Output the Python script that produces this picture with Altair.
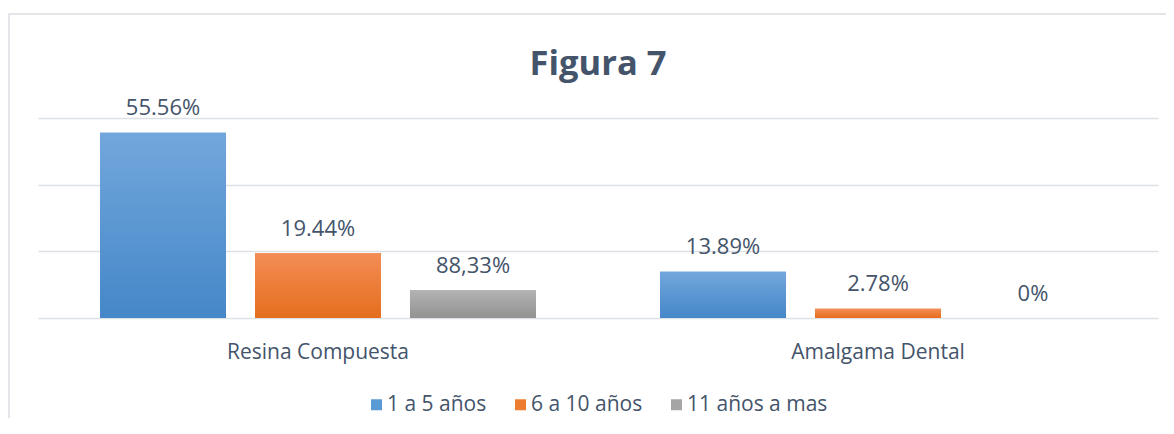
import altair as alt
import pandas as pd

categories = ["Resina Compuesta", "Amalgama Dental"]
series = ["1 a 5 años", "6 a 10 años", "11 años a mas"]
resina_values = [55.56, 19.44, 8.33]
amalgama_values = [13.89, 2.78, 0.0]
resina_labels = ["55.56%", "19.44%", "88,33%"]
amalgama_labels = ["13.89%", "2.78%", "0%"]
title_text = "Figura 7"

flat_colors = ["#5b9bd5", "#ed7d31", "#a5a5a5"]
grad_top = ["#72a7dc", "#f38d56", "#b3b3b3"]
grad_bottom = ["#4587c8", "#e56e1d", "#929292"]

rows = []
for cat, vals, labs in [(categories[0], resina_values, resina_labels),
                        (categories[1], amalgama_values, amalgama_labels)]:
    for s, v, l in zip(series, vals, labs):
        rows.append({"cat": cat, "serie": s, "valor": v, "etiqueta": l})
df = pd.DataFrame(rows)

TXT = "#44546A"
FONT = "Open Sans"

x_enc = alt.X("cat:N", sort=categories, title=None,
              scale=alt.Scale(paddingInner=0, paddingOuter=0),
              axis=alt.Axis(labelFontSize=21, labelColor=TXT, labelFont=FONT,
                            ticks=False, domain=False, labelPadding=23,
                            labelAngle=0, grid=False, labelLimit=500))
xo_enc = alt.XOffset("serie:N", sort=series,
                     scale=alt.Scale(paddingInner=0.187, paddingOuter=0.4))
y_enc = alt.Y("valor:Q", title=None,
              scale=alt.Scale(domain=[0, 60], nice=False),
              axis=alt.Axis(values=[0, 20, 40, 60], labels=False, ticks=False,
                            domain=False, grid=True, gridColor="#dde1e6",
                            gridWidth=1.5))

base = alt.Chart(df)

border = alt.Chart(pd.DataFrame({"a": [0]})).mark_rect(
    fillOpacity=0, stroke="#dadde1", strokeWidth=1.5
).encode(x=alt.value(-29), x2=alt.value(1200), y=alt.value(-104), y2=alt.value(400))

title = alt.Chart(pd.DataFrame({"t": [title_text]})).mark_text(
    fontSize=34.5, fontWeight="bold", color=TXT, font=FONT,
    align="center", baseline="alphabetic"
).encode(x=alt.value(560), y=alt.value(-43), text="t:N")

legend_bars = base.mark_bar().encode(
    x=x_enc, xOffset=xo_enc, y=y_enc,
    color=alt.Color("serie:N", sort=series,
                    scale=alt.Scale(domain=series, range=flat_colors),
                    legend=alt.Legend(title=None, orient="none", direction="horizontal",
                                      legendX=328, legendY=276,
                                      symbolType="square", symbolSize=121,
                                      symbolStrokeWidth=0,
                                      labelFontSize=21, labelColor=TXT, labelFont=FONT,
                                      labelOffset=0, columnPadding=23))
)

grad_layers = []
for s, top, bot in zip(series, grad_top, grad_bottom):
    g = alt.Gradient(gradient="linear",
                     stops=[alt.GradientStop(color=top, offset=0),
                            alt.GradientStop(color=bot, offset=1)],
                     x1=0, x2=0, y1=0, y2=1)
    grad_layers.append(
        base.transform_filter(alt.datum.serie == s).mark_bar(color=g).encode(
            x=x_enc, xOffset=xo_enc, y=y_enc)
    )

labels = base.mark_text(baseline="middle", dy=-24.5, fontSize=22, color=TXT, font=FONT).encode(
    x=x_enc, xOffset=xo_enc, y=y_enc, text="etiqueta:N")

chart = alt.layer(border, title, legend_bars, *grad_layers, labels).properties(
    width=1120, height=200,
    background="white",
    autosize=alt.AutoSizeParams(type="none"),
    padding={"left": 30, "top": 110, "right": 8, "bottom": 100},
).configure_view(strokeWidth=0, stroke="transparent")

chart.save("out.html", embed_options={"renderer": "svg", "actions": False})
